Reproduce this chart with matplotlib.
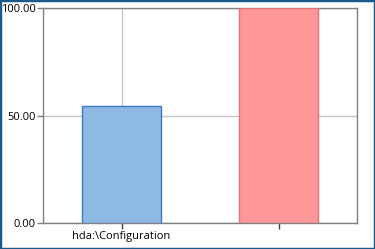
import matplotlib
matplotlib.use("Agg")
import matplotlib.pyplot as plt
from matplotlib.patches import Rectangle

categories = ["hda:\\Configuration", ""]
values = [54.5, 100.0]
bar_colors = ["#8fb9e5", "#ff9799"]
edge_colors = ["#3f78c0", "#e07579"]
yticks = [0, 50, 100]

plt.rcParams['font.family'] = ['Open Sans', 'DejaVu Sans']

fig = plt.figure(figsize=(3.75, 2.49), dpi=100)
ax = fig.add_axes([43/375, 26/249, 314/375, 215/249])

x = range(len(categories))
ax.bar(x, values, width=0.5, color=bar_colors, edgecolor=edge_colors, linewidth=1, zorder=3)

ax.set_xlim(-0.5, 1.5)
ax.set_ylim(0, 100)
ax.set_xticks(list(x))
ax.set_xticklabels(categories, fontsize=8)
ax.set_yticks(yticks)
ax.set_yticklabels(["%.2f" % v for v in yticks], fontsize=8)

ax.grid(True, color="#c4c4c4", linewidth=1, zorder=0)
for s in ax.spines.values():
    s.set_color("#808080")
    s.set_linewidth(1)
ax.tick_params(axis="y", length=4, width=1, color="#808080", pad=1)
ax.tick_params(axis="x", length=4, width=1, color="#404040", pad=2)

# window border
fig.patches.append(Rectangle((0, 0), 1, 1, transform=fig.transFigure, fill=False,
                             edgecolor="#1d5a8c", linewidth=2.5, zorder=10))

fig.savefig("out.png", dpi=100)
